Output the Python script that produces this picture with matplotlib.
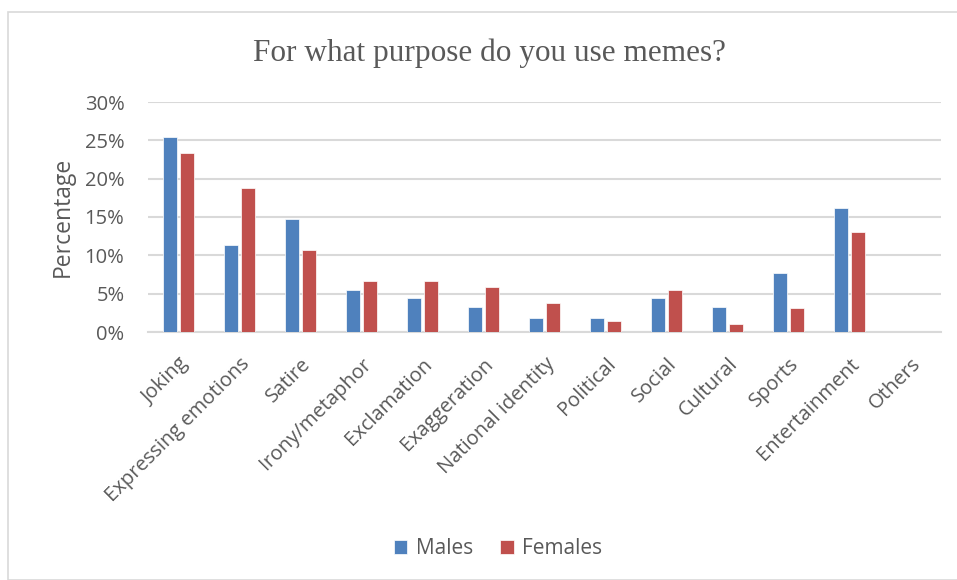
import numpy as np
import matplotlib.pyplot as plt
from matplotlib.patches import Rectangle
from matplotlib.ticker import PercentFormatter

categories = ["Joking", "Expressing emotions", "Satire", "Irony/metaphor",
              "Exclamation", "Exaggeration", "National identity", "Political",
              "Social", "Cultural", "Sports", "Entertainment", "Others"]
males = [25.4, 11.3, 14.7, 5.5, 4.4, 3.3, 1.8, 1.8, 4.4, 3.3, 7.7, 16.2, 0.0]
females = [23.3, 18.8, 10.7, 6.6, 6.6, 5.9, 3.8, 1.4, 5.5, 1.0, 3.1, 13.1, 0.0]

blue = "#4f81bd"
red = "#c0504d"
grey = "#595959"
font = ["Open Sans", "DejaVu Sans"]
plt.rcParams['font.family'] = font

fig = plt.figure(figsize=(9.57, 5.8), dpi=100)
# outer chart border
fig.patches.append(Rectangle((8 / 957, 0), 1, 1 - 12 / 580, transform=fig.transFigure,
                             fill=False, edgecolor="#d9d9d9", linewidth=1.2))

ax = fig.add_axes([148 / 957, 1 - 332 / 580, 793 / 957, 230 / 580])
x = np.arange(len(categories))
w = 0.225
ax.bar(x - 0.142, males, w, color=blue, edgecolor="white", linewidth=0.5, label="Males", zorder=3)
ax.bar(x + 0.142, females, w, color=red, edgecolor="white", linewidth=0.5, label="Females", zorder=3)

ax.set_xlim(-0.5, len(categories) - 0.5)
ax.set_ylim(0, 30)
ax.set_yticks(range(0, 31, 5))
ax.yaxis.set_major_formatter(PercentFormatter(decimals=0))
ax.grid(axis="y", color="#d9d9d9", linewidth=1.5, zorder=0)
for s in ["top", "right", "left"]:
    ax.spines[s].set_visible(False)
ax.spines["bottom"].set_color("#d9d9d9")
ax.spines["bottom"].set_linewidth(1.5)
ax.tick_params(axis="both", length=0, labelsize=14.5, colors=grey)
ax.tick_params(axis="y", pad=17)
ax.set_xticks(x)
ax.set_xticklabels(categories, rotation=45, ha="right", rotation_mode="anchor")
ax.tick_params(axis="x", pad=16)
ax.set_ylabel("Percentage", fontsize=16.5, color=grey, labelpad=7)

fig.text(0.511, 1 - 53 / 580, "For what purpose do you use memes?", ha="center", va="center",
         fontsize=22.5, color=grey, family="Liberation Serif")

fig.legend(loc="center", bbox_to_anchor=(498 / 957, 1 - 549 / 580), ncol=2, frameon=False,
           fontsize=15, labelcolor=grey, handlelength=0.65, handleheight=0.65,
           handletextpad=0.4, columnspacing=1.3)

fig.savefig("out.png", dpi=100)
